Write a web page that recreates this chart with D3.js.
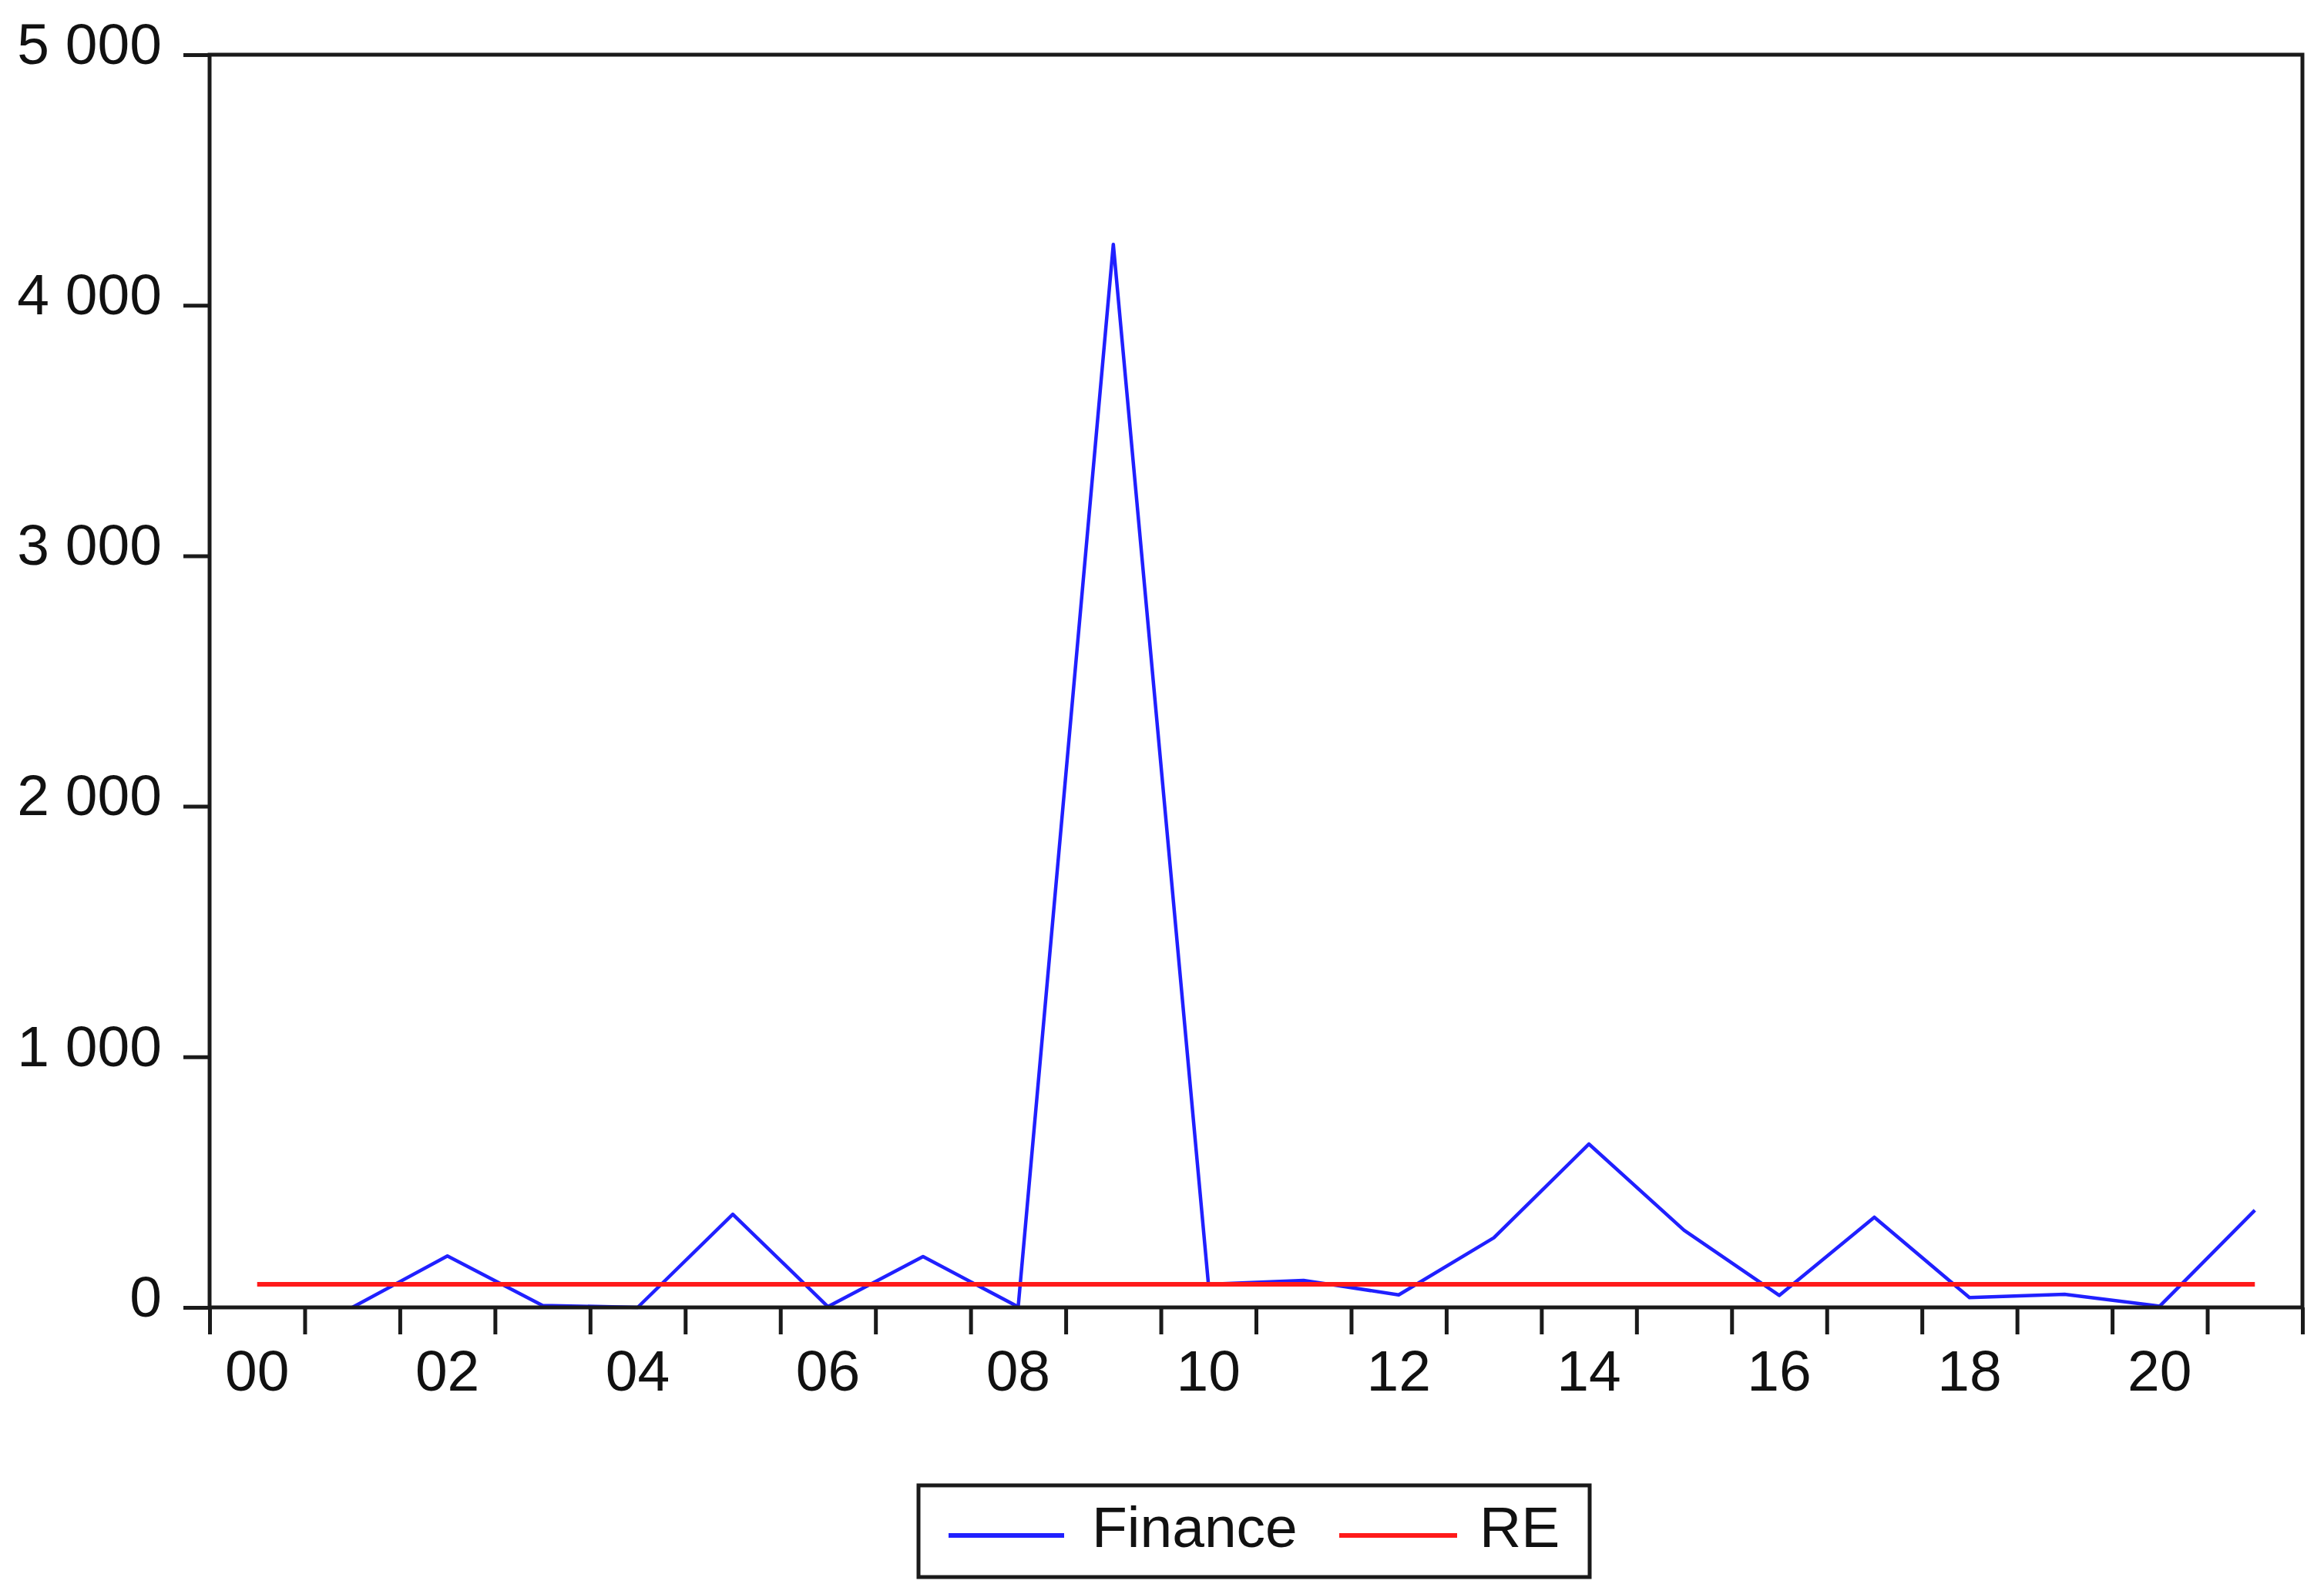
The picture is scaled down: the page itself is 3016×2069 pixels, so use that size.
<!DOCTYPE html>
<html>
<head>
<meta charset="utf-8">
<script src="https://cdn.jsdelivr.net/npm/d3@7"></script>
<style>
  html, body { margin: 0; padding: 0; background: #fff; }
  text { font-family: "Liberation Sans", Arial, sans-serif; fill: #000; }
</style>
</head>
<body>
<div id="chart"></div>
<script>
// years 2000..2021, values
var years = [2000, 2001, 2002, 2003, 2004, 2005, 2006, 2007, 2008, 2009, 2010,
             2011, 2012, 2013, 2014, 2015, 2016, 2017, 2018, 2019, 2020, 2021]
var finance = [null, 0, 205, 8, 0, 372, 3, 203, 2, 4243, 92,
               108, 50, 278, 652, 308, 48, 360, 39, 52, 5, 388]
var re = [92, 92, 92, 92, 92, 92, 92, 92, 92, 92, 92,
          92, 92, 92, 92, 92, 92, 92, 92, 92, 92, 92]
var yTicks = [0, 1000, 2000, 3000, 4000, 5000]
var seriesNames = ['Finance', 'RE']

var W = 3016, H = 2069
var margin = {top: 71, right: 28, bottom: 372, left: 272}
var width = W - margin.left - margin.right
var height = H - margin.top - margin.bottom

var svg = d3.select('#chart').append('svg')
    .attr('width', W)
    .attr('height', H)

var g = svg.append('g')
    .attr('transform', 'translate(' + margin.left + ',' + margin.top + ')')

// year boundaries on the scale, points sit mid-year
var x = d3.scaleLinear()
  .domain([2000, 2022])
  .range([0, width])

var y = d3.scaleLinear()
  .domain([0, 5000])
  .range([height, 0])

var fmt = d3.formatLocale({decimal: '.', thousands: ' ', grouping: [3], currency: ['', '']}).format(',')

// Y axis
var yAxis = g.append('g')
  .call(d3.axisLeft(y).tickValues(yTicks).tickSize(34).tickPadding(28).tickFormat(fmt))
yAxis.select('.domain').remove()
yAxis.selectAll('line').attr('stroke', '#1a1a1a').attr('stroke-width', 5)
yAxis.selectAll('text')
  .attr('dy', '0.15em')
  .style('font-size', '75px')
  .style('font-family', '"Liberation Sans", Arial, sans-serif')
  .style('fill', '#111')

// X axis ticks at year boundaries
var xAxis = g.append('g')
  .attr('transform', 'translate(0,' + height + ')')
  .call(d3.axisBottom(x).tickValues(d3.range(2000, 2023)).tickSize(35).tickFormat(''))
xAxis.select('.domain').remove()
xAxis.selectAll('line').attr('stroke', '#1a1a1a').attr('stroke-width', 5)

// X labels every second year, centred in the year
g.selectAll('text.xl')
    .data(years.filter(function(d){ return d % 2 === 0 }))
  .enter().append('text')
    .attr('class', 'xl')
    .attr('x', function(d){ return x(d + 0.5) })
    .attr('y', height + 108)
    .attr('text-anchor', 'middle')
    .style('font-size', '75px')
    .style('fill', '#111')
    .text(function(d){ return String(d % 100).padStart(2, '0') })

// Lines
var line = d3.line()
  .defined(function(d){ return d.v != null })
  .x(function(d){ return x(d.year + 0.5) })
  .y(function(d){ return y(d.v) })

var finData = years.map(function(d, i){ return {year: d, v: finance[i]} })
var reData = years.map(function(d, i){ return {year: d, v: re[i]} })

g.append('path')
  .datum(finData)
  .attr('d', line)
  .attr('fill', 'none')
  .attr('stroke', '#2020ff')
  .attr('stroke-width', 4.5)
  .attr('stroke-linejoin', 'round')

g.append('path')
  .datum(reData)
  .attr('d', line)
  .attr('fill', 'none')
  .attr('stroke', '#ff1a1a')
  .attr('stroke-width', 6)

// Frame
g.append('rect')
  .attr('x', 0)
  .attr('y', 0)
  .attr('width', width)
  .attr('height', height)
  .attr('fill', 'none')
  .attr('stroke', '#1a1a1a')
  .attr('stroke-width', 5)

// Legend
var legend = svg.append('g')
legend.append('rect')
  .attr('x', 1192)
  .attr('y', 1928)
  .attr('width', 871)
  .attr('height', 119)
  .attr('fill', '#fff')
  .attr('stroke', '#1a1a1a')
  .attr('stroke-width', 5)

var legendItems = [
  {name: seriesNames[0], color: '#2020ff', x1: 1231, x2: 1381, tx: 1417},
  {name: seriesNames[1], color: '#ff1a1a', x1: 1738, x2: 1891, tx: 1920}
]
legendItems.forEach(function(d){
  legend.append('line')
    .attr('x1', d.x1).attr('x2', d.x2)
    .attr('y1', 1993).attr('y2', 1993)
    .attr('stroke', d.color)
    .attr('stroke-width', 6)
  legend.append('text')
    .attr('x', d.tx)
    .attr('y', 2008)
    .style('font-size', '75px')
    .style('fill', '#111')
    .text(d.name)
})
</script>
</body>
</html>
